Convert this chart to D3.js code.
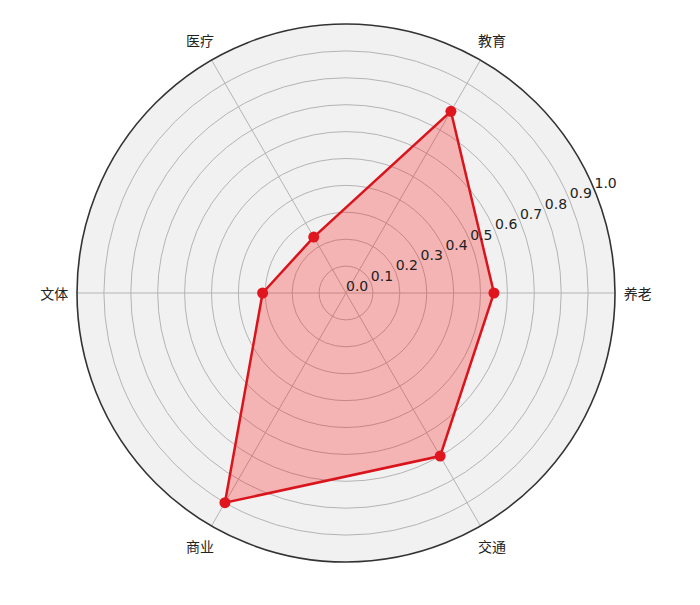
<!DOCTYPE html>
<html><head><meta charset="utf-8">
<script src="https://cdn.jsdelivr.net/npm/d3@7"></script>
<style>body{margin:0;background:#fff}</style>
</head><body>
<svg id="c" width="700" height="605"></svg>
<script>
const categories = ["养老","教育","医疗","文体","商业","交通"];
const values = [0.55, 0.78, 0.24, 0.31, 0.90, 0.70];
const rTicks = [0.0,0.1,0.2,0.3,0.4,0.5,0.6,0.7,0.8,0.9,1.0];

const cx = 346, cy = 293, R = 269;
const svg = d3.select("#c");
const g = svg.append("g").attr("transform", `translate(${cx},${cy})`);
const r = d3.scaleLinear().domain([0,1]).range([0,R]);
const ang = d3.scaleLinear().domain([0, categories.length]).range([0, 2*Math.PI]);
// angle measured counterclockwise from east
const px = (a, v) => r(v)*Math.cos(a);
const py = (a, v) => -r(v)*Math.sin(a);

g.append("circle").attr("r", R).attr("fill", "#f1f1f1");
// grid rings
g.selectAll("circle.ring").data(rTicks.filter(d => d > 0 && d < 1)).enter()
  .append("circle").attr("class","ring").attr("r", d => r(d))
  .attr("fill","none").attr("stroke","#b4b4b4").attr("stroke-width",1);
// spokes
g.selectAll("line.spoke").data(categories).enter().append("line")
  .attr("x1",0).attr("y1",0)
  .attr("x2",(d,i)=>px(ang(i),1)).attr("y2",(d,i)=>py(ang(i),1))
  .attr("stroke","#b4b4b4").attr("stroke-width",1);

// data polygon
const pts = values.map((v,i)=>[px(ang(i),v), py(ang(i),v)]);
g.append("path").attr("d", d3.line().curve(d3.curveLinearClosed)(pts))
  .attr("fill","rgba(255,0,0,0.25)").attr("stroke","#d9141c").attr("stroke-width",2.5)
  .attr("stroke-linejoin","miter");
g.selectAll("circle.pt").data(pts).enter().append("circle")
  .attr("cx",d=>d[0]).attr("cy",d=>d[1]).attr("r",5.5).attr("fill","#e0161e");

// outer circle
g.append("circle").attr("r", R).attr("fill","none").attr("stroke","#333").attr("stroke-width",1.6);

// radial tick labels at 22.5°
const la = 22.5*Math.PI/180;
g.selectAll("text.rt").data(rTicks).enter().append("text")
  .attr("x", d => px(la,d)).attr("y", d => py(la,d) - 2)
  .attr("text-anchor","start")
  .attr("font-family","DejaVu Sans").attr("font-size",14).attr("fill","#222")
  .text(d => d.toFixed(1));

// category labels
g.selectAll("text.cat").data(categories).enter().append("text")
  .attr("x",(d,i)=>px(ang(i),1.085)).attr("y",(d,i)=>py(ang(i),1.085))
  .attr("text-anchor","middle").attr("dominant-baseline","central")
  .attr("font-family","Noto Sans CJK SC").attr("font-size",14).attr("fill","#222")
  .text(d=>d);
</script>
</body></html>
